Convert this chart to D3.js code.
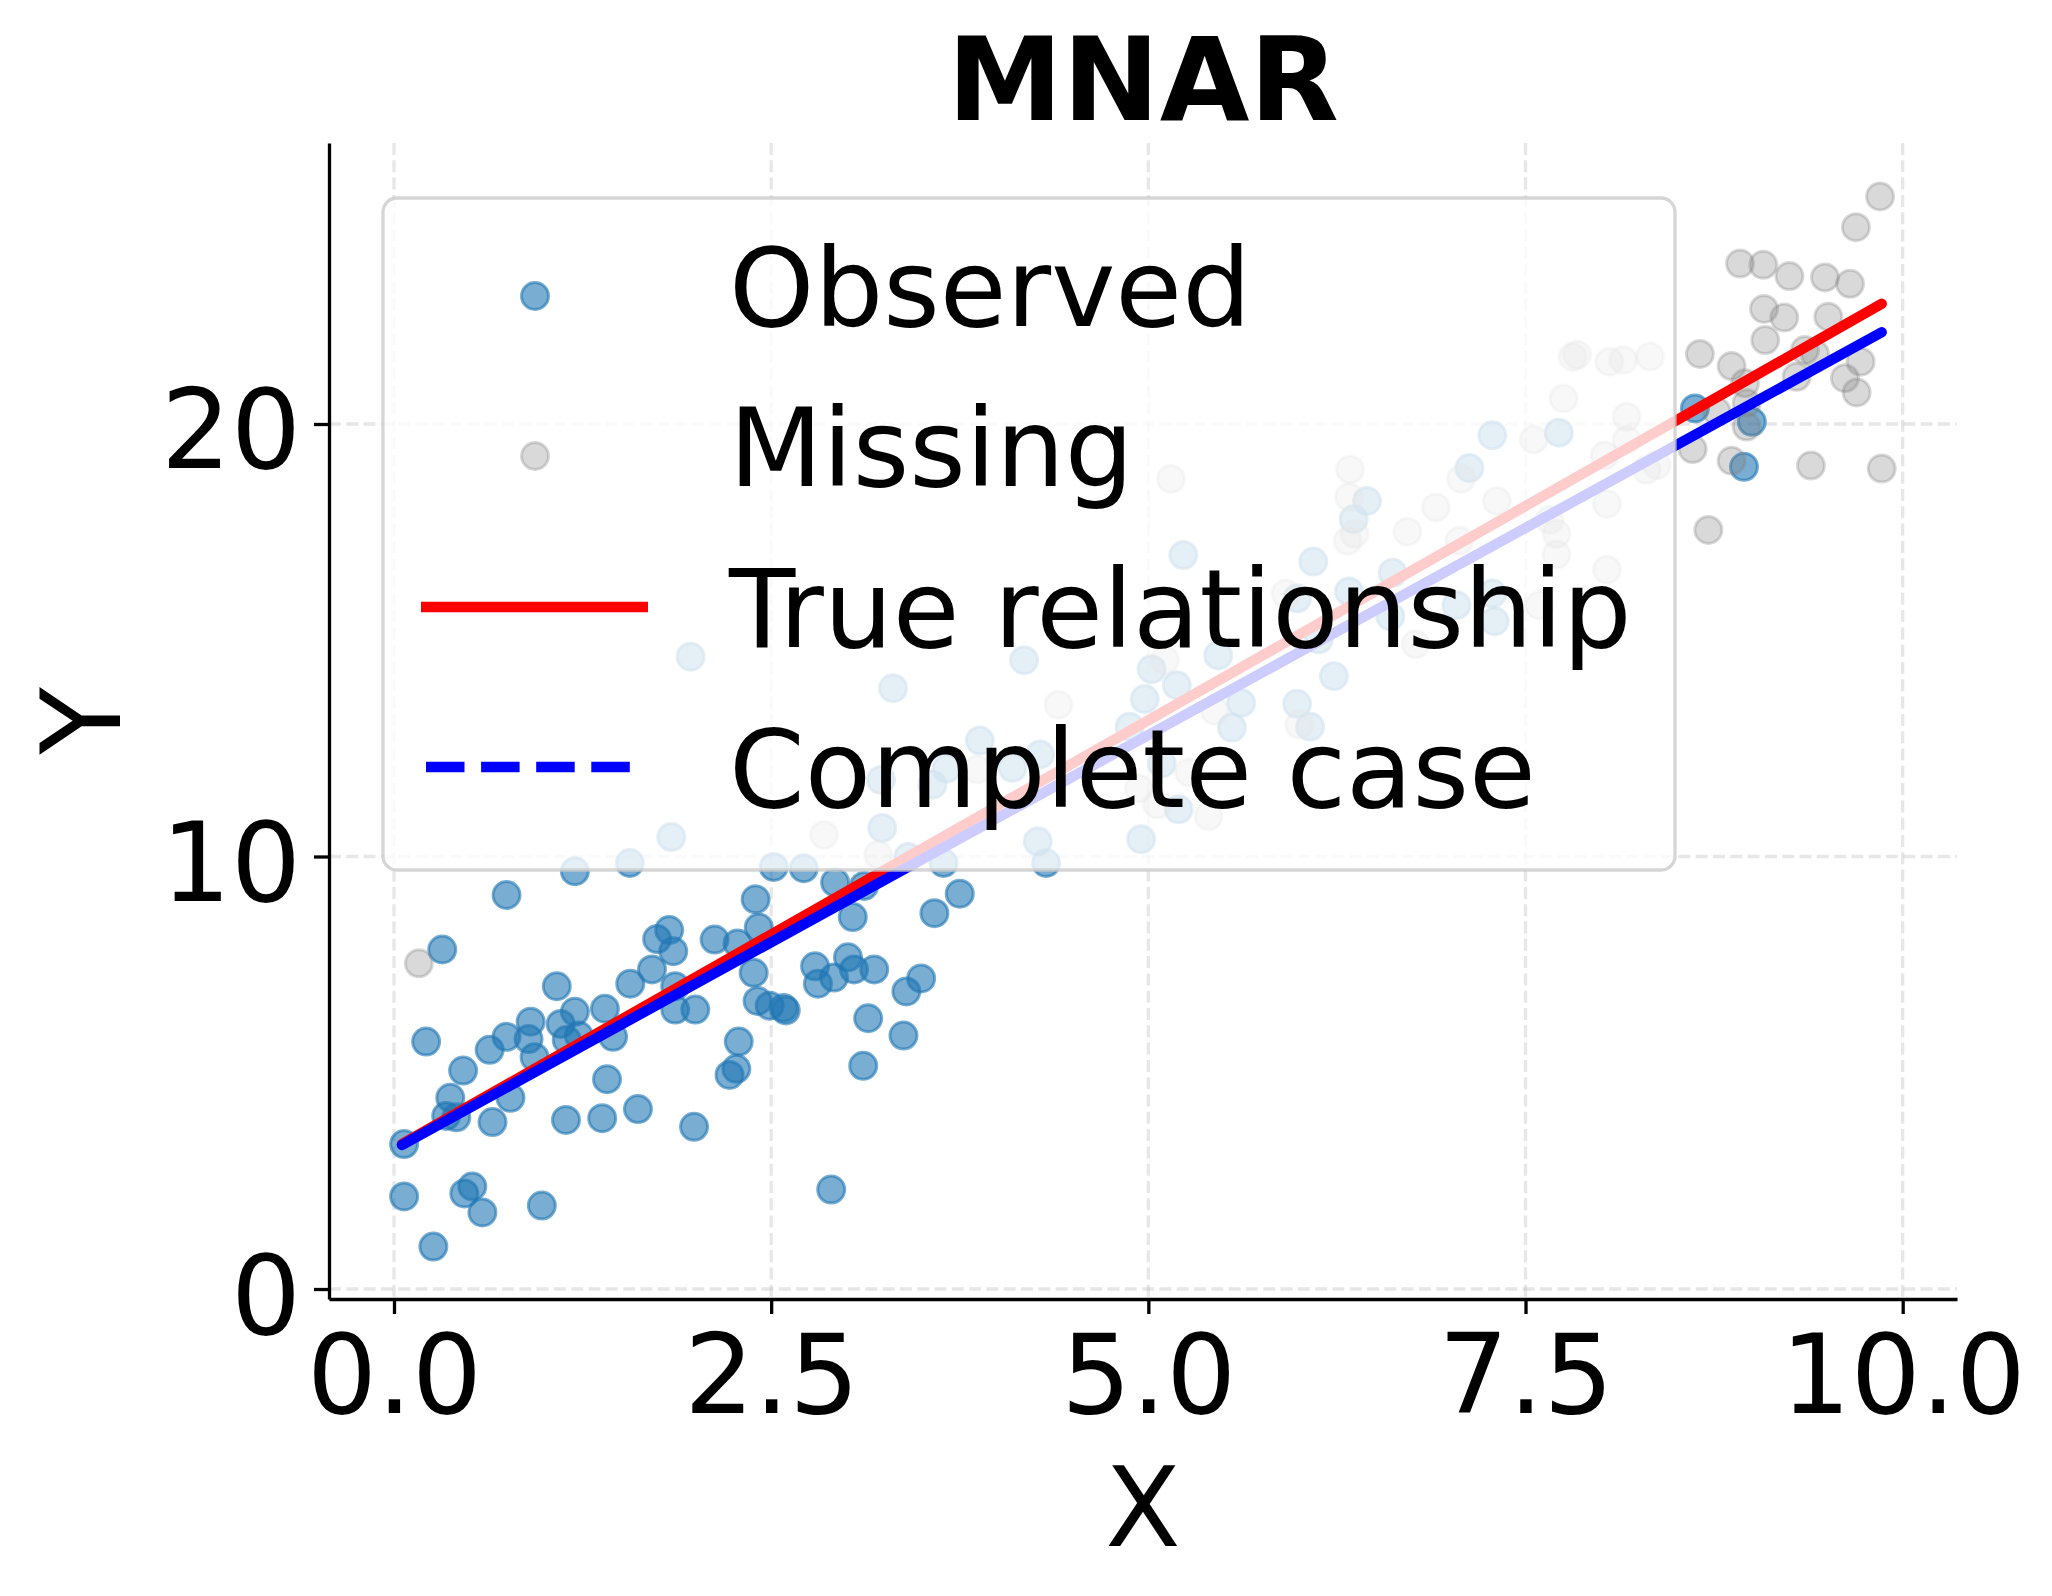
<!DOCTYPE html>
<html>
<head>
<meta charset="utf-8">
<script src="https://cdn.jsdelivr.net/npm/d3@7"></script>
<style>
  body { margin: 0; background: #fff; }
  svg text { font-family: "DejaVu Sans", sans-serif; fill: #000; }
</style>
</head>
<body>
<svg width="2052" height="1596"></svg>
<script>
// observed points (blue)
var observed = [
  [0.746, 9.11], [0.320, 7.85], [1.199, 9.66], [2.924, 9.40], [3.116, 9.32], [3.750, 9.14],
  [3.582, 8.69], [3.041, 8.60], [2.397, 9.01], [2.418, 8.36], [2.125, 8.08], [2.277, 7.99],
  [1.744, 8.09], [1.824, 8.30], [1.851, 7.81], [1.710, 7.39], [1.566, 7.06], [1.864, 7.00],
  [2.384, 7.31], [1.079, 7.00], [1.398, 6.48], [1.199, 6.41], [1.105, 6.13], [0.906, 6.18],
  [0.746, 5.83], [0.892, 5.78], [1.145, 5.76], [1.225, 5.86], [1.452, 5.83], [0.634, 5.53],
  [0.932, 5.36], [0.213, 5.72], [0.458, 5.05], [0.373, 4.42], [0.346, 4.00], [0.413, 3.97],
  [0.772, 4.42], [0.653, 3.86], [0.067, 3.35], [1.412, 4.85], [1.140, 3.91], [1.380, 3.95],
  [1.617, 4.16], [1.989, 3.75], [1.864, 6.46], [1.997, 6.46], [2.410, 6.66], [2.490, 6.55],
  [2.583, 6.50], [2.597, 6.44], [2.285, 5.72], [2.269, 5.09], [2.224, 4.95], [2.791, 7.46],
  [2.810, 7.06], [2.916, 7.20], [3.009, 7.67], [3.049, 7.39], [3.183, 7.39], [3.494, 7.18],
  [3.396, 6.88], [3.143, 6.26], [3.377, 5.86], [3.110, 5.16], [2.898, 2.30], [0.067, 2.14],
  [0.466, 2.21], [0.519, 2.37], [0.586, 1.77], [0.980, 1.93], [0.261, 0.98],
  // behind the legend
  [1.563, 9.85], [1.838, 10.45], [1.966, 14.62], [3.308, 13.89], [3.883, 12.68], [3.228, 11.77],
  [3.569, 11.66], [3.662, 12.03], [3.236, 10.66], [2.517, 9.76], [2.716, 9.73], [3.409, 9.99],
  [3.643, 9.85], [4.176, 14.54], [4.100, 12.05], [4.282, 12.36], [4.322, 9.85], [4.267, 10.35],
  [4.952, 10.40], [5.022, 14.33], [5.189, 13.96], [4.976, 13.64], [4.876, 13.00], [5.089, 12.15],
  [5.201, 11.09], [5.463, 14.65], [5.615, 13.55], [5.554, 12.98], [5.232, 16.97], [6.093, 16.82],
  [5.986, 13.53], [6.072, 13.00], [6.230, 14.17], [6.130, 15.02], [5.986, 15.97], [6.330, 16.13],
  [6.449, 18.22], [6.361, 17.80], [6.620, 16.56], [6.604, 15.55], [7.128, 18.98], [7.042, 15.81],
  [7.280, 19.74], [7.295, 15.44], [7.280, 16.08], [7.721, 19.80],
  [8.623, 20.36], [9.000, 20.05], [8.948, 19.01]
];

// missing points (gray)
var missing = [
  [0.165, 7.53], [2.850, 10.50], [3.209, 10.04], [3.867, 12.01], [4.404, 13.51], [5.110, 14.54],
  [4.936, 11.57], [5.058, 11.20], [5.399, 10.93], [5.270, 11.94], [5.440, 13.37], [5.150, 18.73],
  [6.001, 13.05], [5.910, 16.08], [6.336, 18.95], [6.330, 18.31], [6.367, 17.46], [6.321, 17.30],
  [6.772, 14.91], [6.717, 17.51], [6.906, 18.07], [7.073, 18.73], [7.061, 17.30], [7.310, 18.22],
  [7.554, 19.64], [7.752, 20.59], [7.812, 21.55], [7.843, 21.60], [8.056, 21.44], [7.590, 15.81],
  [7.706, 17.46], [7.706, 16.98], [8.025, 19.27], [8.040, 18.15], [8.040, 16.63], [7.660, 17.78],
  [8.148, 21.48], [8.325, 21.56], [8.170, 20.17], [8.170, 19.63], [8.303, 18.94], [8.370, 19.05],
  [9.850, 25.26], [9.690, 24.55], [8.922, 23.71], [9.076, 23.68], [9.249, 23.42], [9.485, 23.39],
  [9.651, 23.24], [9.081, 22.66], [9.215, 22.46], [9.507, 22.48], [9.089, 21.94], [8.656, 21.62],
  [8.866, 21.34], [9.352, 21.71], [9.419, 21.62], [9.721, 21.44], [8.955, 20.94], [9.297, 21.09],
  [9.617, 21.06], [9.695, 20.73], [8.767, 20.29], [8.966, 20.48], [8.966, 19.94], [8.608, 19.42],
  [8.866, 19.15], [9.392, 19.04], [9.861, 18.97], [8.712, 17.55]
];

// fitted lines (end points)
var lineX = [0.053, 9.861];
var trueY = [3.35, 22.78];
var completeY = [3.33, 22.12];

var xTicks = [0, 2.5, 5, 7.5, 10];
var yTicks = [0, 10, 20];
var legendLabels = ['Observed', 'Missing', 'True relationship', 'Complete case'];

var svg = d3.select('svg');
var plotL = 329, plotR = 1957, plotT = 143, plotB = 1299;
var fs = 110;

var x = d3.scaleLinear().domain([-0.4308, 10.36]).range([plotL, plotR]);
var y = d3.scaleLinear().domain([-0.231, 26.497]).range([plotB, plotT]);

// grid
var grid = svg.append('g').attr('stroke', '#b0b0b0').attr('stroke-opacity', 0.3)
    .attr('stroke-width', 3.3).attr('stroke-dasharray', '12,5.3');
grid.selectAll('.gx').data(xTicks).enter().append('line')
    .attr('x1', function(d){return x(d);}).attr('x2', function(d){return x(d);})
    .attr('y1', plotT).attr('y2', plotB);
grid.selectAll('.gy').data(yTicks).enter().append('line')
    .attr('y1', function(d){return y(d);}).attr('y2', function(d){return y(d);})
    .attr('x1', plotL).attr('x2', plotR);

// axes
var xAxis = d3.axisBottom(x).tickValues(xTicks).tickFormat(d3.format('.1f'))
    .tickSize(15).tickSizeOuter(0).tickPadding(21);
var yAxis = d3.axisLeft(y).tickValues(yTicks).tickFormat(d3.format('d'))
    .tickSize(15).tickSizeOuter(0).tickPadding(13);

var gx = svg.append('g').attr('transform', 'translate(0,' + plotB + ')').call(xAxis);
var gy = svg.append('g').attr('transform', 'translate(' + plotL + ',0)').call(yAxis);
[gx, gy].forEach(function(g){
  g.select('.domain').attr('stroke', '#000').attr('stroke-width', 3.3);
  g.selectAll('.tick line').attr('stroke', '#000').attr('stroke-width', 3.3);
  g.selectAll('.tick text').attr('font-size', fs).attr('font-family', '"DejaVu Sans", sans-serif').attr('fill', '#000');
});
gy.selectAll('.tick text').attr('dy', '0.4em');

// points
function dots(data, color, alpha){
  svg.append('g').selectAll('circle').data(data).enter().append('circle')
    .attr('cx', function(d){return x(d[0]);})
    .attr('cy', function(d){return y(d[1]);})
    .attr('r', 13.5)
    .attr('fill', color).attr('fill-opacity', alpha)
    .attr('stroke', color).attr('stroke-opacity', alpha).attr('stroke-width', 3);
}
dots(observed, '#1f77b4', 0.6);
dots(missing, '#808080', 0.3);

// lines
var line = d3.line().x(function(d){return x(d[0]);}).y(function(d){return y(d[1]);});
svg.append('path').datum(lineX.map(function(v, i){return [v, trueY[i]];}))
    .attr('d', line).attr('fill', 'none').attr('stroke', '#ff0000')
    .attr('stroke-width', 10.4).attr('stroke-linecap', 'round');
svg.append('path').datum(lineX.map(function(v, i){return [v, completeY[i]];}))
    .attr('d', line).attr('fill', 'none').attr('stroke', '#0000ff')
    .attr('stroke-width', 10.4).attr('stroke-linecap', 'round');

// legend
var lg = svg.append('g');
lg.append('rect').attr('x', 383).attr('y', 198).attr('width', 1292).attr('height', 672)
    .attr('rx', 14).attr('fill', '#fff').attr('fill-opacity', 0.8)
    .attr('stroke', '#cccccc').attr('stroke-opacity', 0.8).attr('stroke-width', 3.3);
var rowY = [296, 456, 607, 767];
lg.append('circle').attr('cx', 535).attr('cy', rowY[0]).attr('r', 13.5)
    .attr('fill', '#1f77b4').attr('fill-opacity', 0.6)
    .attr('stroke', '#1f77b4').attr('stroke-opacity', 0.6).attr('stroke-width', 3);
lg.append('circle').attr('cx', 535).attr('cy', rowY[1]).attr('r', 13.5)
    .attr('fill', '#808080').attr('fill-opacity', 0.3)
    .attr('stroke', '#808080').attr('stroke-opacity', 0.3).attr('stroke-width', 3);
lg.append('line').attr('x1', 421).attr('x2', 648).attr('y1', rowY[2]).attr('y2', rowY[2])
    .attr('stroke', '#ff0000').attr('stroke-width', 10.4);
lg.append('line').attr('x1', 426).attr('x2', 631).attr('y1', rowY[3]).attr('y2', rowY[3])
    .attr('stroke', '#0000ff').attr('stroke-width', 10.4).attr('stroke-dasharray', '38.5,16.6');
lg.selectAll('text').data(legendLabels).enter().append('text')
    .attr('x', 729).attr('y', function(d, i){return rowY[i] + (i < 2 ? 30 : 40);})
    .attr('font-size', 108.5).text(function(d){return d;});

// title and labels
svg.append('text').attr('x', (plotL + plotR) / 2).attr('y', 120).attr('text-anchor', 'middle')
    .attr('font-size', 116).attr('font-weight', 'bold').text('MNAR');
svg.append('text').attr('x', (plotL + plotR) / 2).attr('y', 1546).attr('text-anchor', 'middle')
    .attr('font-size', fs).text('X');
svg.append('text').attr('transform', 'translate(120,' + ((plotT + plotB) / 2) + ') rotate(-90)')
    .attr('text-anchor', 'middle').attr('font-size', fs).text('Y');
</script>
</body>
</html>
